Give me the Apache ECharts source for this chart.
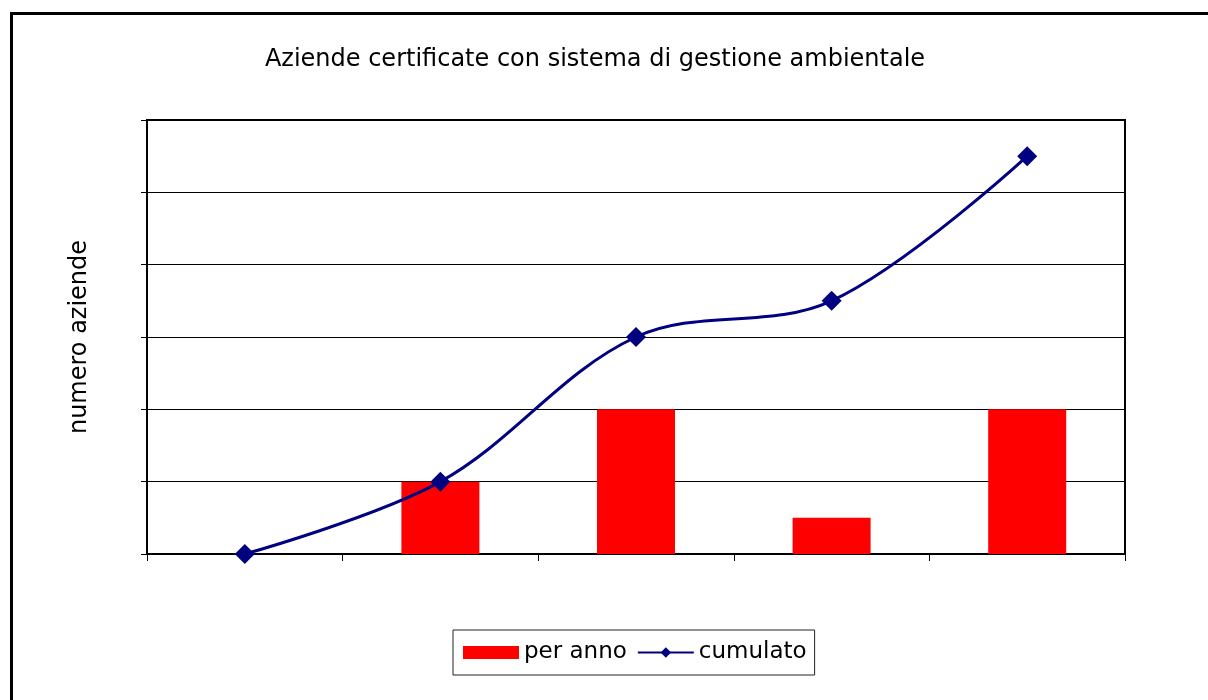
<!DOCTYPE html>
<html>
<head>
<meta charset="utf-8">
<script src="https://cdn.jsdelivr.net/npm/echarts@6/dist/echarts.min.js"></script>
<style>html,body{margin:0;padding:0;background:#fff;}#c{width:1208px;height:700px;}</style>
</head>
<body>
<div id="c"></div>
<script>
const categories = ['1', '2', '3', '4', '5'];
const perAnno = [0, 10, 20, 5, 20];
const cumulato = [0, 10, 30, 35, 55];
const yTicks = { min: 0, max: 60, interval: 10 };

const chart = echarts.init(document.getElementById('c'), null, { renderer: 'canvas' });
const font = 'DejaVu Sans, sans-serif';
chart.setOption({
  animation: false,
  backgroundColor: '#fff',
  title: {
    text: 'Aziende certificate con sistema di gestione ambientale',
    left: 590, textAlign: 'center', top: 43,
    textStyle: { fontFamily: font, fontSize: 24, fontWeight: 'normal', color: '#000' }
  },
  graphic: [{
    type: 'rect', left: 9, top: 11, silent: true,
    shape: { width: 1400, height: 900 },
    style: { fill: 'none', stroke: '#000', lineWidth: 3 }
  }],
  legend: {
    left: 453, top: 630, orient: 'horizontal',
    padding: [11, 8, 11, 10], itemGap: 10,
    itemWidth: 56, itemHeight: 13,
    borderColor: '#222', borderWidth: 1,
    textStyle: { fontFamily: font, fontSize: 23, color: '#000' },
    data: [
      { name: 'per anno', icon: 'rect' },
      { name: 'cumulato' }
    ]
  },
  grid: { left: 147, right: 83, top: 120, bottom: 146, show: true, borderColor: '#000', borderWidth: 2, containLabel: false },
  xAxis: {
    type: 'category', data: categories, boundaryGap: true,
    axisLine: { lineStyle: { color: '#000', width: 2 } },
    axisTick: { show: true, length: 7, lineStyle: { color: '#000', width: 1 } },
    axisLabel: { show: false }, splitLine: { show: false }
  },
  yAxis: {
    type: 'value', min: yTicks.min, max: yTicks.max, interval: yTicks.interval,
    name: 'numero aziende', nameLocation: 'middle', nameGap: 55, nameRotate: 90,
    nameTextStyle: { fontFamily: font, fontSize: 24, color: '#000' },
    axisLine: { show: true, lineStyle: { color: '#000', width: 2 } },
    axisTick: { show: true, length: 6, lineStyle: { color: '#000', width: 1 } },
    axisLabel: { show: false },
    splitLine: { show: true, lineStyle: { color: '#000', width: 1 } }
  },
  series: [
    {
      name: 'per anno', type: 'bar', data: perAnno, barWidth: 78,
      itemStyle: { color: '#ff0000' }
    },
    {
      name: 'cumulato', type: 'line', data: cumulato, smooth: 0.35,
      symbol: 'diamond', symbolSize: 20,
      lineStyle: { color: '#000080', width: 3 },
      itemStyle: { color: '#000080' }
    }
  ]
});
</script>
</body>
</html>
